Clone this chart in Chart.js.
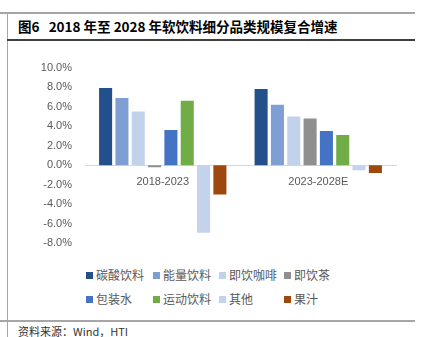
<!DOCTYPE html>
<html>
<head>
<meta charset="utf-8">
<script src="https://cdn.jsdelivr.net/npm/chart.js"></script>
<style>
  body { margin: 0; width: 424px; height: 337px; background: #fff; position: relative; overflow: hidden;
         font-family: "Noto Sans CJK SC", "Noto Sans", sans-serif; }
  .line { position: absolute; }
  #title { position: absolute; left: 18px; top: 16px; font-size: 13.5px; font-weight: bold; color: #000; white-space: pre; }
  #source { position: absolute; left: 18px; top: 323px; font-size: 11px; color: #333; }
  #chartBox { position: absolute; left: 0; top: 48px; width: 424px; height: 215px; }
  #legend { position: absolute; left: 86px; top: 267px; width: 300px; }
  .item { position: absolute; font-size: 12px; color: #595959; white-space: nowrap; line-height: 16px; }
  .item span { display: inline-block; width: 7px; height: 7px; margin-right: 3px; vertical-align: 1px; }
</style>
</head>
<body>
<div class="line" style="left:0;top:12px;width:415px;height:2px;background:#a6a6a6"></div>
<div class="line" style="left:7px;top:12px;width:1px;height:325px;background:#a6a6a6"></div>
<div class="line" style="left:7px;top:39px;width:408px;height:1.5px;background:#404040"></div>
<div class="line" style="left:0;top:320px;width:415px;height:2px;background:#a6a6a6"></div>
<div id="title">图6   2018 年至 2028 年软饮料细分品类规模复合增速</div>
<div id="chartBox"><canvas id="chart"></canvas></div>
<div id="legend"></div>
<div id="source">资料来源：Wind，HTI</div>
<script>
// 时期
const periods = ["2018-2023", "2023-2028E"];
// 品类
const categories = ["碳酸饮料", "能量饮料", "即饮咖啡", "即饮茶", "包装水", "运动饮料", "其他", "果汁"];
const colors = ["#23508A", "#7F9FD4", "#C2D2EB", "#8F8F8F", "#4472C4", "#70AD47", "#C4D3EB", "#9E480E"];
// 复合增速 (%)
const carbonated = [7.9, 7.8];
const energy = [6.9, 6.2];
const rtdCoffee = [5.5, 5.0];
const rtdTea = [-0.2, 4.8];
const water = [3.6, 3.5];
const sports = [6.6, 3.1];
const others = [-6.9, -0.5];
const juice = [-3.0, -0.8];
const yTicks = [-8, -6, -4, -2, 0, 2, 4, 6, 8, 10];

const series = [carbonated, energy, rtdCoffee, rtdTea, water, sports, others, juice];

const chart = new Chart(document.getElementById("chart"), {
  type: "bar",
  data: {
    labels: periods,
    datasets: series.map((d, i) => ({
      label: categories[i],
      data: d,
      backgroundColor: colors[i],
      borderWidth: 0,
      categoryPercentage: 0.84,
      barPercentage: 0.8
    }))
  },
  options: {
    responsive: true,
    maintainAspectRatio: false,
    animation: false,
    layout: { padding: { left: 0, right: 28, top: 0, bottom: 0 } },
    plugins: { legend: { display: false }, tooltip: { enabled: false } },
    scales: {
      x: {
        position: { y: 0 },
        grid: { display: false, drawTicks: false },
        border: { color: "#d9d9d9", width: 1 },
        ticks: { color: "#595959", font: { size: 11, family: "Liberation Sans" }, padding: 10 }
      },
      y: {
        min: -8,
        max: 10,
        afterBuildTicks: (axis) => { axis.ticks = yTicks.map(v => ({ value: v })); },
        afterFit: (axis) => { axis.width = 85; },
        grid: { display: false, drawTicks: false },
        border: { display: false },
        ticks: {
          color: "#595959",
          font: { size: 11, family: "Liberation Sans" },
          padding: 13,
          callback: (v) => v.toFixed(1) + "%"
        }
      }
    }
  }
});

// 图例: 两行四列
const legend = document.getElementById("legend");
const colX = [0, 67, 133, 198];
categories.forEach((name, i) => {
  const el = document.createElement("div");
  el.className = "item";
  el.style.left = colX[i % 4] + "px";
  el.style.top = (Math.floor(i / 4) * 24) + "px";
  el.innerHTML = '<span style="background:' + colors[i] + '"></span>' + name;
  legend.appendChild(el);
});
</script>
</body>
</html>
